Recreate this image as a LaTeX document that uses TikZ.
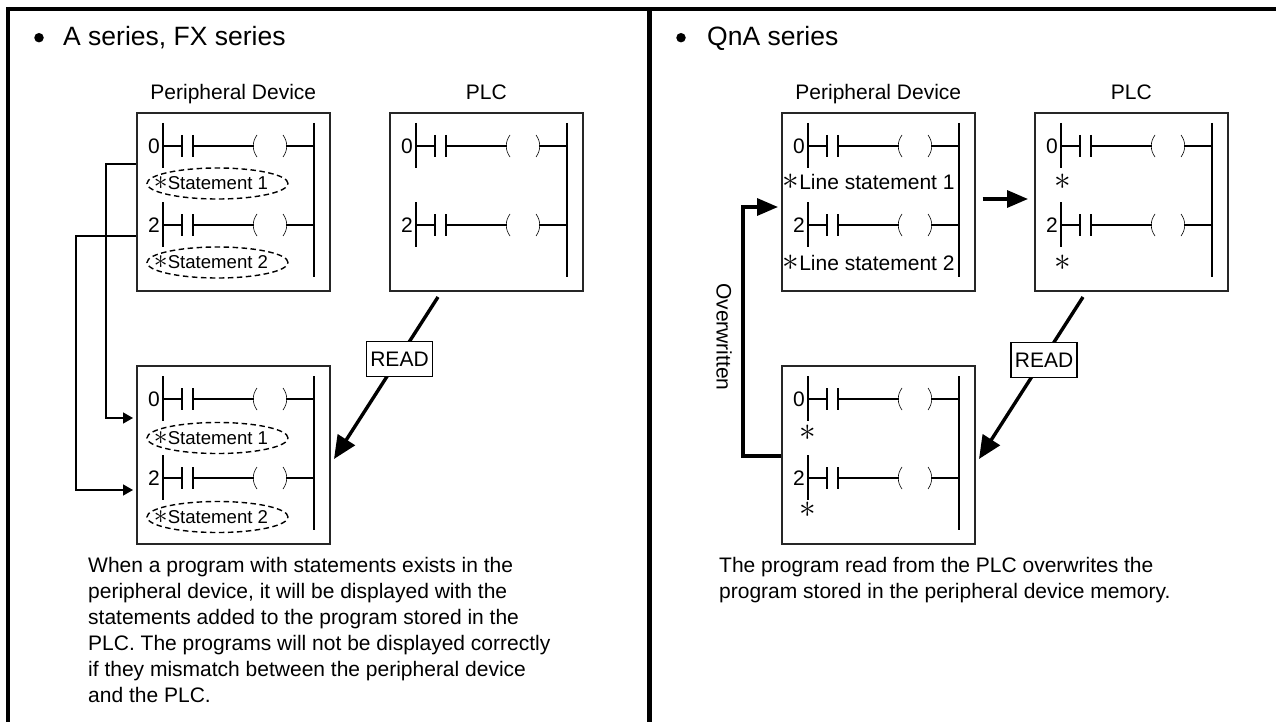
\documentclass[tikz,border=0pt]{standalone}
\usepackage{fontspec}
\usepackage{graphicx}
\setmainfont{Liberation Sans}
\usetikzlibrary{shapes.geometric,arrows.meta,positioning,calc}
\newcommand{\Nstar}{\scalebox{1.6}{$\ast$}}
\newcommand{\Nrung}[3]{%
  \draw[wire] (27,#1-23) -- (27,#1+22);
  \draw[wire] (27,#1) -- (46,#1) (46,#1-11) -- (46,#1+11)
              (57,#1-11) -- (57,#1+11) (57,#1) -- (118,#1);
  \draw[wire, semithick] (121,#1-11) .. controls (116,#1-4) and (116,#1+4) .. (121,#1+11);
  \draw[wire, semithick] (147,#1-11) .. controls (152,#1-4) and (152,#1+4) .. (147,#1+11);
  \draw[wire] (150,#1) -- (178,#1);
  \node[txt, anchor=east, inner sep=0pt] (#3) at (24,#1) {#2};
}
\newcommand{\Nladder}[1]{%
  \begin{scope}[shift={(#1.north west)}]
    \Nrung{34}{0}{#1zero}
    \Nrung{113}{2}{#1two}
    \draw[wire] (178,11) -- (178,165);
  \end{scope}
}

\begin{document}
\begin{tikzpicture}[
  x=1pt, y=-1pt,
  txt/.style={font=\fontsize{21}{26}\selectfont, text=black},
  head/.style={font=\fontsize{26.5}{30}\selectfont, text=black, anchor=base west, inner sep=0pt},
  dot/.style={circle, fill=black, minimum size=9.5pt, inner sep=0pt},
  panel/.style={draw=black!85, line width=1.6pt, minimum width=193pt, minimum height=178pt,
                anchor=north west, inner sep=0pt},
  boxtitle/.style={txt, text height=15pt, text depth=5pt},
  frame/.style={line width=4.5pt},
  wire/.style={line width=1.9pt},
  link/.style={line width=1.4pt, -{Triangle[length=10pt,width=11pt]}},
  heavy/.style={line width=3.4pt, -{Triangle[length=21pt,width=17pt]}},
  readarr/.style={line width=3.4pt, -{Triangle[length=23pt,width=20pt]}},
  readbox/.style={txt, draw, line width=1.4pt, fill=white, inner sep=0pt,
                  minimum width=66pt, minimum height=35pt},
  stmt/.style={ellipse, draw, dashed, dash pattern=on 5.5pt off 3.5pt, line width=1.4pt,
               minimum width=141pt, minimum height=31pt, inner sep=0pt},
  stmttxt/.style={font=\fontsize{18.6}{22}\selectfont, inner sep=0pt, xshift=-6.5pt},
  note/.style={txt, align=left, anchor=north west, inner sep=0pt},
  node distance=6pt
]
\useasboundingbox (0,0) rectangle (1276,722);
\fill[white] (0,0) rectangle (1276,722);

% -- Frame --------------------------------------------------------------------
\draw[frame] (6,9) -- (1276,9);
\draw[frame] (8,7) -- (8,722);
\draw[frame] (649.5,9) -- (649.5,722);

% -- Left panel ---------------------------------------------------------------
\node[dot] (bulA) at (39,37.7) {};
\node[head] (titleA) at (63,46) {A series, FX series};

\node[panel] (pdA)  at (136,112) {};
\node[panel] (plcA) at (389,112) {};
\node[panel] (resA) at (136,365) {};
\node[boxtitle, above=3.5pt of pdA]  (lblpdA)  {Peripheral Device};
\node[boxtitle, above=3.5pt of plcA] (lblplcA) {PLC};

\Nladder{pdA}
\Nladder{plcA}
\Nladder{resA}

\node[stmt] (st1) at (217.5,183.5) {};
\node[stmt] (st2) at (217.5,262.5) {};
\node[stmt] (st3) at (217.5,438)   {};
\node[stmt] (st4) at (217.5,517)   {};
\node[stmttxt] (st1t) at (st1) {\Nstar Statement 1};
\node[stmttxt] (st2t) at (st2) {\Nstar Statement 2};
\node[stmttxt] (st3t) at (st3) {\Nstar Statement 1};
\node[stmttxt] (st4t) at (st4) {\Nstar Statement 2};

% -- Left panel: connectors ---------------------------------------------------
\coordinate (tap1) at ($(pdA.north west)+(0,52)$);
\coordinate (tap2) at ($(pdA.north west)+(0,124)$);
\coordinate (drop1) at ($(resA.north west)+(-3,53)$);
\coordinate (drop2) at ($(resA.north west)+(-3,125)$);
\draw[link] (tap1) -- ++(-30,0) |- (drop1);
\draw[link] (tap2) -- ++(-60,0) |- (drop2);

\coordinate (outA) at (438,297);
\coordinate (inA)  at (334,459);
\draw[readarr] (outA) -- (inA);
\node[readbox] (readA) at (399.5,359) {READ};

\node[note] (noteA) at (88,557) {When a program with statements exists in the\\
  peripheral device, it will be displayed with the\\
  statements added to the program stored in the\\
  PLC. The programs will not be displayed correctly\\
  if they mismatch between the peripheral device\\
  and the PLC.};

% -- Right panel --------------------------------------------------------------
\node[dot] (bulQ) at (681,37.7) {};
\node[head] (titleQ) at (707,46) {QnA series};

\node[panel] (pdQ)  at (781,112) {};
\node[panel] (plcQ) at (1034,112) {};
\node[panel] (resQ) at (781,365) {};
\node[boxtitle, above=3.5pt of pdQ]  (lblpdQ)  {Peripheral Device};
\node[boxtitle, above=3.5pt of plcQ] (lblplcQ) {PLC};

\Nladder{pdQ}
\Nladder{plcQ}
\Nladder{resQ}

\node[txt, anchor=west, inner sep=0pt] (ln1) at (782.5,181.5) {\Nstar Line statement 1};
\node[txt, anchor=west, inner sep=0pt] (ln2) at (782.5,263) {\Nstar Line statement 2};
\node[txt, inner sep=0pt] (ast1) at (1062.7,181.5) {\Nstar};
\node[txt, inner sep=0pt] (ast2) at (1062.7,263) {\Nstar};
\node[txt, inner sep=0pt] (ast3) at (807.7,432.5) {\Nstar};
\node[txt, inner sep=0pt] (ast4) at (807.7,510) {\Nstar};

% -- Right panel: connectors --------------------------------------------------
\coordinate (outP) at ($(pdQ.north east)+(7,87)$);
\coordinate (inP)  at ($(plcQ.north west)+(-6,87)$);
\draw[heavy] (outP) -- (inP);

\coordinate (tapQ)  at ($(resQ.north west)+(0,91)$);
\coordinate (dropQ) at ($(pdQ.north west)+(-3,95)$);
\draw[heavy] (tapQ) -- ++(-38,0) |- (dropQ);
\node[txt, rotate=-90, inner sep=0pt] (overw) at (724,337) {Overwritten};

\coordinate (outQ) at (1083,297);
\coordinate (inQ)  at (979,459);
\draw[readarr] (outQ) -- (inQ);
\node[readbox] (readQ) at (1044,360) {READ};

\node[note] (noteQ) at (719,557) {The program read from the PLC overwrites the\\
  program stored in the peripheral device memory.};
\end{tikzpicture}
\end{document}
